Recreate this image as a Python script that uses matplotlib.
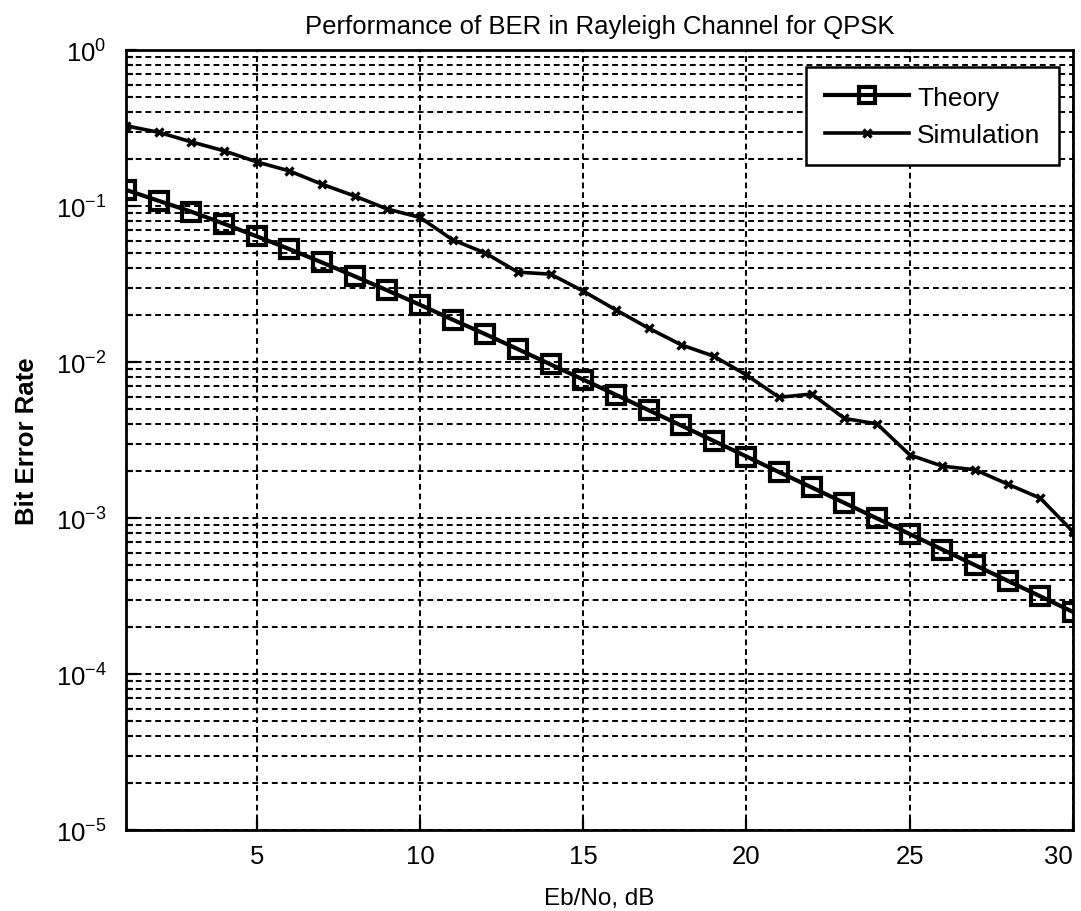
import matplotlib
matplotlib.use("Agg")
import matplotlib.pyplot as plt
from matplotlib.ticker import LogLocator, NullFormatter

plt.rcParams["font.family"] = ["Liberation Sans", "DejaVu Sans"]
plt.rcParams["mathtext.fontset"] = "custom"
plt.rcParams["mathtext.rm"] = "Liberation Sans"

# Eb/No in dB
ebno_db = list(range(1, 31))

# theoretical BER
ber_theory = [0.127, 0.108, 0.092, 0.077, 0.064, 0.053, 0.0435, 0.0355, 0.0288, 0.0233,
              0.0187, 0.0151, 0.0121, 0.00966, 0.00772, 0.00617, 0.00492, 0.00392, 0.00312, 0.00248,
              0.00197, 0.00157, 0.00125, 0.000994, 0.00079, 0.000628, 0.000499, 0.000396, 0.000315, 0.00025]

# simulated BER (read off the x markers)
ber_sim = [0.327, 0.297, 0.258, 0.226, 0.192, 0.168, 0.138, 0.116, 0.0957, 0.0846,
           0.0608, 0.050, 0.0377, 0.0366, 0.0285, 0.0216, 0.0165, 0.0129, 0.0109, 0.00826,
           0.00594, 0.00624, 0.00435, 0.00401, 0.00254, 0.00215, 0.00204, 0.00165, 0.00134, 0.000817]

fig = plt.figure(figsize=(10.81, 9.12), dpi=100)
ax = fig.add_axes([0.1166, 0.0888, 0.8760, 0.8552])

ax.semilogy(ebno_db, ber_theory, color="black", linewidth=3.0, marker="s", markersize=13,
            markerfacecolor="none", markeredgewidth=3.0, label="Theory")
ax.semilogy(ebno_db, ber_sim, color="black", linewidth=2.6, marker="x", markersize=6,
            markeredgewidth=2.4, label="Simulation")

ax.set_xlim(1, 30)
ax.set_ylim(1e-5, 1)
ax.set_xticks([5, 10, 15, 20, 25, 30])
ax.yaxis.set_major_locator(LogLocator(base=10, numticks=10))
ax.yaxis.set_minor_locator(LogLocator(base=10, subs=range(2, 10), numticks=20))
ax.yaxis.set_minor_formatter(NullFormatter())

ax.grid(True, which="major", axis="x", linestyle=(0, (3, 2)), color="black", linewidth=1.4)
ax.grid(True, which="both", axis="y", linestyle=(0, (3, 2)), color="black", linewidth=1.4)
ax.tick_params(axis="both", which="both", direction="in", labelsize=18.5, width=1.6)
ax.tick_params(which="major", length=8)
ax.tick_params(axis="x", which="major", pad=10)
ax.tick_params(axis="y", which="major", pad=14)
ax.tick_params(which="minor", length=5)
for s in ax.spines.values():
    s.set_linewidth(2.0)

fig.canvas.draw()
ax.get_xticklabels()[-1].set_horizontalalignment("right")

ax.set_title("Performance of BER in Rayleigh Channel for QPSK", fontsize=18.5, pad=12)
ax.set_xlabel("Eb/No, dB", fontsize=17.5, labelpad=14)
ax.set_ylabel("Bit Error Rate", fontsize=18.5, fontweight="bold", labelpad=12)

leg = ax.legend(loc="upper right", fontsize=19, fancybox=False, framealpha=1,
                edgecolor="black", handlelength=3.2, handletextpad=0.3, borderpad=0.7,
                labelspacing=0.5, borderaxespad=0, bbox_to_anchor=(0.985, 0.978))
leg.get_frame().set_linewidth(1.8)
leg.legend_handles[0].set_markersize(11)

fig.savefig("out.png", dpi=100)
